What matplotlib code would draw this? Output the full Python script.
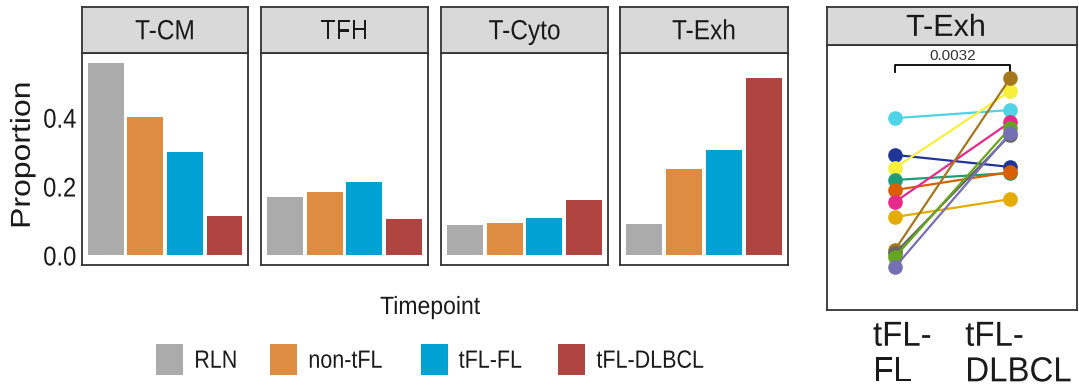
import matplotlib
matplotlib.use("Agg")
import matplotlib.pyplot as plt
from matplotlib import patheffects
from matplotlib.patches import Patch
from matplotlib.transforms import Affine2D, ScaledTranslation

plt.rcParams["font.family"] = ["Liberation Sans", "DejaVu Sans"]

# bar data (proportion per cell type and timepoint)
timepoints = ["RLN", "non-tFL", "tFL-FL", "tFL-DLBCL"]
tp_colors = ["#ABABAB", "#DE8C41", "#00A2D3", "#B04441"]
celltypes = ["T-CM", "TFH", "T-Cyto", "T-Exh"]
prop_tcm = [0.560, 0.403, 0.300, 0.113]
prop_tfh = [0.171, 0.185, 0.212, 0.105]
prop_tcyto = [0.087, 0.095, 0.110, 0.160]
prop_texh = [0.090, 0.250, 0.307, 0.516]

# paired T-Exh samples, tFL-FL -> tFL-DLBCL
pair_groups = ["tFL-\nFL", "tFL-\nDLBCL"]
sample_colors = ["#4FD3E6", "#1F3599", "#F7EF3A", "#1B9E77", "#D95F02", "#E7298A",
                 "#E6AB02", "#A6761D", "#666666", "#66A61E", "#7570B3"]
exh_fl = [0.574, 0.461, 0.421, 0.384, 0.353, 0.316, 0.270, 0.169, 0.159, 0.147, 0.116]
exh_dlbcl = [0.599, 0.424, 0.657, 0.405, 0.408, 0.562, 0.325, 0.697, 0.522, 0.544, 0.528]
p_value = "0.0032"

W, H = 1079, 391
fig = plt.figure(figsize=(W / 100, H / 100), dpi=100)
EDGE = "#333333"
TXT = "#1A1A1A"
SX = 0.88  # the reference image is a bit squeezed sideways


class Squash(patheffects.AbstractPathEffect):
    """Narrow the glyphs of a text around its left / centre / right edge."""

    def __init__(self, sx, anchor="center", rotated=False):
        super().__init__()
        self.sx = sx
        self.anchor = anchor
        self.rotated = rotated

    def draw_path(self, renderer, gc, tpath, affine, rgbFace=None):
        ext = tpath.get_extents()
        if self.rotated:
            cy = (ext.y0 + ext.y1) / 2
            sq = Affine2D().translate(0, -cy).scale(1, self.sx).translate(0, cy)
        else:
            cx = {"left": ext.x0, "right": ext.x1}.get(self.anchor, (ext.x0 + ext.x1) / 2)
            sq = Affine2D().translate(-cx, 0).scale(self.sx, 1).translate(cx, 0)
        renderer.draw_path(gc, tpath, sq + affine, rgbFace)


def px_axes(x0, x1, y0, y1):
    return fig.add_axes([x0 / W, 1 - y1 / H, (x1 - x0) / W, (y1 - y0) / H])


def frame(ax):
    for s in ax.spines.values():
        s.set_color(EDGE)
        s.set_linewidth(1.3)


def strip(x0, x1, y0, y1, label, size, sx, xpos=0.5):
    sax = px_axes(x0, x1, y0, y1)
    sax.set_facecolor("#D9D9D9")
    sax.set_xticks([])
    sax.set_yticks([])
    frame(sax)
    t = sax.text(xpos, 0.45, label, ha="center", va="center", fontsize=size,
                 color=TXT, transform=sax.transAxes)
    t.set_path_effects([Squash(sx)])


panels_x = [(82, 248), (261, 428), (441, 608), (620, 788)]
all_props = [prop_tcm, prop_tfh, prop_tcyto, prop_texh]

for i, (ct, vals) in enumerate(zip(celltypes, all_props)):
    x0, x1 = panels_x[i]
    ax = px_axes(x0, x1, 53, 265)
    ax.bar(range(1, 5), vals, width=0.9, color=tp_colors)
    ax.set_xlim(0.4, 4.6)
    ax.set_ylim(-0.028, 0.588)
    ax.set_xticks([])
    frame(ax)
    if i == 0:
        ax.set_yticks([0.0, 0.2, 0.4])
        ax.set_yticklabels(["0.0", "0.2", "0.4"])
        ax.tick_params(axis="y", length=0, pad=4, labelsize=19.5, labelcolor=TXT)
        for lbl in ax.get_yticklabels():
            lbl.set_path_effects([Squash(SX, "right")])
        ax.set_ylabel("Proportion", fontsize=23, color=TXT)
        ax.yaxis.set_label_coords(-0.265, 0.519)
        ax.yaxis.label.set_path_effects([Squash(0.86, rotated=True)])
    else:
        ax.set_yticks([])
    strip(x0, x1, 7, 53, ct, 20, SX)

# legend under the bar panels
title = fig.text(430 / W, 1 - 307 / H, "Timepoint", ha="center", va="center",
                 fontsize=18, color=TXT)
title.set_path_effects([Squash(0.92)])
handles = [Patch(facecolor=c, edgecolor="none") for c in tp_colors]
leg = fig.legend(handles, timepoints, loc="center left",
                 bbox_to_anchor=(156 / W, 1 - 359.5 / H), ncol=4, frameon=False,
                 fontsize=18, handlelength=1.08, handleheight=1.5, handletextpad=0.44,
                 columnspacing=1.05, borderpad=0, borderaxespad=0, labelcolor=TXT)
for t in leg.get_texts():
    t.set_path_effects([Squash(0.86, "left")])

# paired plot
ax = px_axes(827, 1077, 45, 310)
for c, a, b in zip(sample_colors, exh_fl, exh_dlbcl):
    ax.plot([1, 2], [a, b], color=c, lw=1.6, marker="o", markersize=9.5, zorder=3)
ax.plot([1, 1, 2, 2], [0.716, 0.737, 0.737, 0.716], color="black", lw=1.3)
ax.text(1.5, 0.745, p_value, ha="center", va="bottom", fontsize=11, color="#333333")
ax.set_xlim(0.41, 2.58)
ax.set_ylim(-0.016, 0.799)
ax.set_yticks([])
ax.set_xticks([1, 2])
ax.set_xticklabels(pair_groups, linespacing=1.1)
ax.tick_params(axis="x", length=0, pad=7, labelsize=25, labelcolor=TXT)
for lbl, dx in zip(ax.get_xticklabels(), [-22, -45]):
    lbl.set_ha("left")
    lbl.set_transform(lbl.get_transform() + ScaledTranslation(dx / 100, 0, fig.dpi_scale_trans))
    lbl.set_path_effects([Squash(0.95, "left")])
frame(ax)
strip(827, 1077, 7, 45, "T-Exh", 22, 1.0, xpos=0.476)

fig.savefig("out.png", dpi=100)
